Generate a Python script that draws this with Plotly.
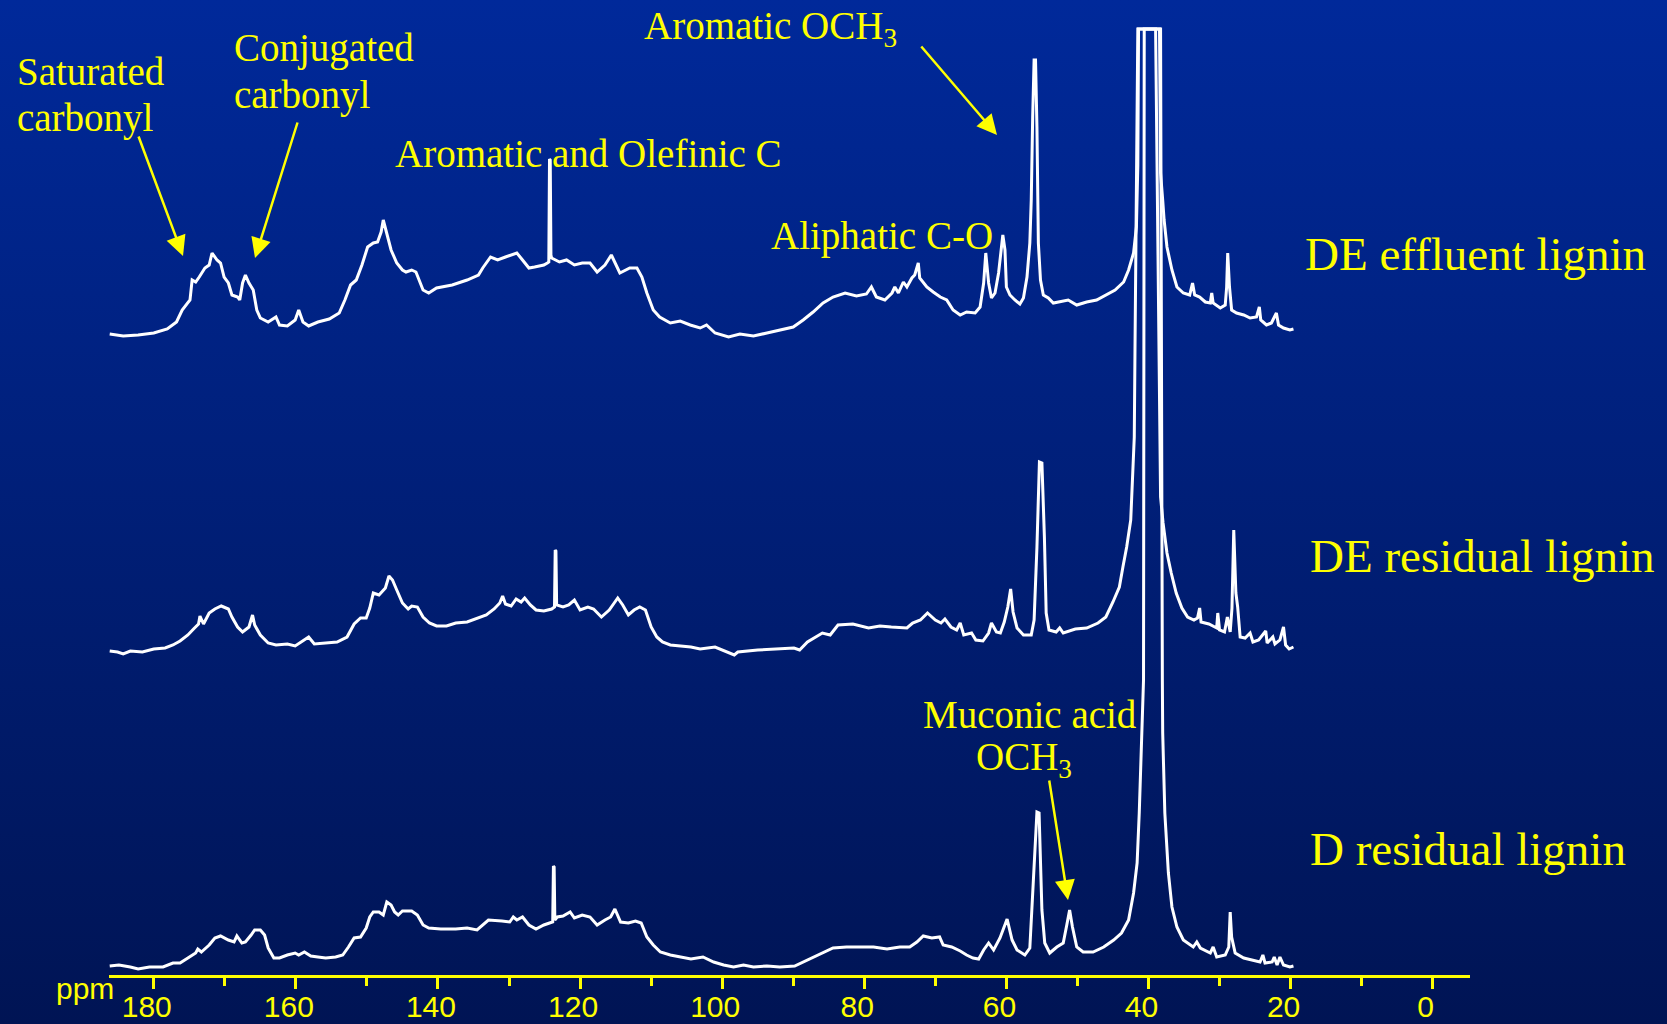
import base64
import plotly.graph_objects as go

# ---------------------------------------------------------------------------
# 13C NMR spectra of lignin fractions (chemical shift in ppm, intensity a.u.)
# ---------------------------------------------------------------------------
de_effluent_ppm = [
    186.2, 184.3, 182.2, 180.0, 178.1, 176.8, 176.0, 174.9, 174.6, 174.1,
    173.6, 172.8, 172.2, 171.8, 171.1, 170.6, 170.1, 169.5, 169.0, 168.2,
    167.9, 167.5, 167.1, 166.6, 166.0, 165.5, 165.0, 163.9, 162.8, 162.3,
    161.2, 160.1, 159.6, 159.0, 158.2, 156.9, 155.3, 153.9, 153.1, 152.3,
    151.5, 150.7, 149.9, 149.1, 148.5, 148.0, 147.7, 147.3, 146.6, 145.8,
    145.0, 144.5, 143.7, 143.1, 142.1, 141.3, 140.2, 138.0, 135.9, 134.3,
    133.7, 132.6, 131.6, 130.5, 129.7, 128.9, 128.1, 127.2, 126.4, 125.1,
    124.6, 124.4, 124.3, 124.2, 124.1, 124.0, 122.9, 121.9, 120.8, 119.7,
    118.6, 117.6, 116.5, 115.6, 114.4, 113.0, 112.0, 111.3, 110.6, 109.7,
    108.8, 107.3, 105.9, 104.5, 103.1, 102.2, 101.0, 99.1, 97.5, 95.6,
    93.7, 91.9, 90.0, 88.6, 87.2, 85.8, 84.4, 82.7, 81.1, 79.7,
    79.0, 78.3, 77.1, 76.1, 75.7, 75.2, 74.5, 74.0, 73.3, 72.9,
    72.4, 72.2, 71.2, 70.3, 69.3, 68.4, 67.5, 66.5, 65.6, 64.4,
    63.7, 63.2, 62.9, 62.5, 62.1, 61.6, 61.1, 60.5, 60.2, 60.0,
    59.5, 58.8, 58.1, 57.6, 57.1, 56.7, 56.5, 56.3, 56.1, 55.9,
    55.7, 55.5, 55.2, 54.8, 54.1, 53.4, 52.5, 51.3, 50.1, 48.7,
    47.3, 45.9, 44.7, 43.5, 42.8, 42.1, 41.7, 41.5, 41.4, 38.45,
    38.3, 38.0, 37.8, 37.4, 36.7, 36.0, 35.1, 34.2, 33.8, 33.5,
    32.8, 32.0, 31.3, 31.1, 30.9, 29.9, 29.2, 29.0, 28.85, 28.6,
    28.3, 27.6, 26.6, 25.7, 24.8, 24.4, 24.2, 23.4, 22.7, 22.0,
    21.7, 21.0, 20.1, 19.6,
]
de_effluent_int = [
    1, -1, 0, 2, 6, 13, 25, 35, 55, 53,
    58, 67, 70, 82, 75, 72, 58, 52, 40, 38,
    35, 52, 60, 52, 45, 25, 17, 13, 18, 10,
    9, 15, 25, 13, 9, 13, 16, 22, 35, 50,
    55, 70, 88, 92, 93, 103, 115, 105, 85, 72,
    65, 63, 65, 63, 45, 42, 47, 50, 55, 60,
    67, 78, 75, 78, 80, 82, 75, 67, 68, 70,
    72, 73, 176, 175, 80, 77, 73, 75, 70, 72,
    72, 63, 70, 80, 62, 67, 67, 58, 42, 25,
    18, 12, 14, 10, 7, 10, 2, -2, 1, -1,
    2, 5, 8, 15, 23, 32, 38, 42, 39, 41,
    48, 38, 35, 42, 48, 42, 53, 48, 57, 60,
    72, 57, 48, 43, 38, 35, 25, 20, 23, 22,
    28, 52, 82, 52, 37, 42, 62, 100, 85, 48,
    40, 35, 31, 37, 58, 92, 135, 218, 275, 275,
    208, 92, 55, 40, 37, 32, 33, 35, 30, 33,
    35, 40, 45, 53, 65, 82, 108, 170, 306, 306,
    162, 135, 115, 88, 65, 48, 42, 40, 52, 40,
    38, 33, 32, 42, 32, 27, 30, 48, 82, 48,
    25, 22, 20, 17, 18, 28, 15, 10, 12, 22,
    10, 7, 5, 6,
]

de_residual_ppm = [
    186.2, 185.1, 184.3, 183.3, 181.6, 180.0, 178.4, 177.3, 176.3, 175.2,
    174.4, 173.7, 173.5, 173.0, 172.2, 171.4, 170.5, 169.5, 169.0, 168.2,
    167.5, 166.6, 166.1, 165.8, 165.0, 163.9, 162.8, 161.2, 160.1, 159.1,
    158.2, 157.4, 155.8, 154.2, 152.8, 151.8, 150.9, 150.1, 149.6, 149.1,
    148.3, 147.4, 146.9, 146.4, 145.8, 145.0, 144.2, 143.7, 142.9, 142.1,
    141.2, 140.2, 138.8, 137.5, 135.9, 134.2, 133.2, 132.1, 131.3, 130.9,
    130.5, 129.7, 129.0, 128.3, 127.8, 127.0, 126.2, 125.1, 124.0, 123.6,
    123.5, 123.4, 123.3, 122.4, 121.6, 120.8, 120.0, 118.9, 118.1, 117.0,
    115.9, 114.7, 114.0, 113.2, 112.4, 111.6, 110.8, 110.0, 109.2, 108.4,
    107.3, 105.7, 104.4, 103.1, 101.0, 98.3, 97.8, 95.0, 92.35, 89.9,
    89.1, 88.0, 85.9, 84.8, 83.7, 81.6, 79.4, 77.8, 76.2, 74.0,
    73.2, 72.1, 71.1, 70.0, 69.2, 68.65, 67.8, 67.0, 66.5, 66.0,
    64.9, 64.3, 63.3, 62.5, 62.1, 61.4, 60.85, 60.3, 59.8, 59.4,
    59.06, 58.5, 57.6, 56.5, 56.1, 55.7, 55.35, 55.0, 54.65, 54.4,
    54.0, 53.0, 52.5, 52.0, 50.3, 48.7, 47.1, 46.0, 45.0, 44.1,
    43.6, 43.07, 42.5, 42.26, 42.0, 41.9, 41.7, 41.5, 39.0, 38.7,
    38.5, 38.3, 37.95, 37.4, 36.8, 36.1, 35.3, 34.5, 33.6, 33.1,
    32.8, 32.6, 31.5, 30.4, 30.25, 30.0, 29.3, 28.9, 28.5, 28.25,
    28.0, 27.7, 27.45, 27.1, 26.4, 25.7, 25.3, 24.5, 23.5, 23.3,
    22.5, 22.2, 21.5, 21.0, 20.7, 20.2, 19.6,
]
de_residual_int = [
    1, 0, -2, 1, 0, 3, 4, 7, 11, 17,
    23, 28, 36, 28, 39, 43, 46, 43, 35, 25,
    20, 25, 37, 27, 17, 9, 7, 8, 6, 11,
    15, 8, 9, 10, 15, 28, 34, 34, 44, 59,
    57, 64, 76, 72, 62, 49, 43, 46, 45, 35,
    29, 26, 26, 29, 30, 34, 37, 43, 49, 56,
    48, 46, 53, 50, 54, 47, 42, 41, 43, 45,
    102, 101, 47, 45, 47, 52, 42, 45, 43, 35,
    42, 54, 47, 37, 42, 45, 42, 25, 15, 10,
    7, 6, 5, 3, 5, -3, 0, 2, 3, 4,
    2, 10, 19, 17, 27, 28, 24, 26, 25, 24,
    29, 32, 39, 32, 29, 33, 25, 22, 29, 17,
    19, 12, 11, 19, 29, 20, 19, 30, 45, 63,
    40, 24, 17, 17, 32, 105, 190, 189, 115, 39,
    22, 20, 24, 19, 23, 24, 29, 35, 50, 65,
    85, 105, 132, 165, 215, 302, 452, 623, 623, 402,
    232, 155, 129, 99, 79, 59, 44, 35, 32, 34,
    44, 30, 28, 24, 39, 22, 20, 35, 20, 44,
    122, 59, 45, 15, 14, 19, 10, 12, 21, 9,
    15, 8, 12, 25, 7, 3, 5,
]

d_residual_ppm = [
    186.2, 184.9, 183.3, 182.2, 180.6, 178.7, 177.3, 176.3, 175.2, 174.1,
    173.8, 173.3, 172.2, 171.4, 170.6, 169.5, 168.7, 168.3, 167.6, 167.1,
    166.3, 165.8, 165.0, 164.4, 163.9, 163.1, 162.3, 161.2, 160.1, 159.6,
    158.8, 157.9, 156.9, 155.8, 154.4, 153.4, 152.6, 151.8, 150.9, 150.1,
    149.6, 149.1, 148.3, 147.7, 147.2, 146.6, 146.1, 145.6, 145.0, 143.7,
    142.9, 142.1, 141.3, 139.6, 137.5, 135.9, 134.5, 133.7, 132.9, 131.0,
    129.9, 129.4, 128.9, 128.1, 127.2, 126.2, 125.1, 124.3, 123.85, 123.75,
    123.65, 123.55, 123.2, 122.4, 121.4, 120.8, 119.7, 118.6, 117.6, 116.5,
    115.7, 115.1, 114.3, 113.2, 112.2, 111.4, 110.6, 109.7, 108.7, 107.3,
    105.7, 104.4, 102.7, 101.2, 99.8, 98.4, 97.0, 95.6, 93.7, 91.9,
    89.8, 88.6, 87.2, 85.8, 84.4, 82.5, 80.6, 78.7, 76.8, 75.0,
    73.6, 72.6, 71.7, 70.5, 69.4, 68.9, 67.7, 66.5, 65.6, 64.7,
    63.9, 63.2, 62.5, 61.8, 60.9, 59.9, 59.2, 58.5, 57.4, 56.7,
    56.2, 55.7, 55.4, 55.0, 54.6, 53.9, 52.9, 52.0, 51.5, 51.1,
    50.7, 50.1, 49.2, 47.8, 46.3, 44.9, 43.8, 42.8, 42.1, 41.6,
    41.3, 40.95, 40.7, 40.6, 38.3, 38.05, 38.0, 37.7, 37.2, 36.7,
    36.0, 35.1, 33.7, 33.2, 32.7, 31.3, 30.9, 30.4, 29.2, 28.7,
    28.5, 28.3, 27.8, 26.6, 25.2, 24.3, 23.9, 23.6, 22.6, 22.3,
    21.9, 21.5, 21.0, 20.1, 19.6,
]
d_residual_int = [
    1, 2, 0, -2, 0, 0, 4, 4, 9, 14,
    18, 15, 22, 29, 31, 27, 25, 31, 24, 25,
    32, 37, 37, 32, 19, 9, 9, 12, 14, 12,
    15, 11, 10, 9, 10, 12, 20, 29, 30, 39,
    50, 55, 55, 52, 65, 62, 55, 52, 56, 56,
    52, 42, 39, 38, 38, 39, 37, 42, 47, 46,
    45, 50, 47, 50, 42, 38, 42, 44, 45, 101,
    100, 47, 50, 51, 55, 49, 52, 50, 42, 47,
    50, 58, 45, 44, 46, 44, 30, 22, 15, 12,
    10, 8, 10, 5, 2, 0, 2, 0, 1, 0,
    1, 5, 9, 14, 19, 20, 20, 20, 18, 20,
    20, 25, 31, 29, 30, 22, 20, 16, 12, 9,
    8, 17, 24, 17, 29, 48, 27, 17, 12, 19,
    87, 155, 154, 57, 24, 14, 20, 24, 42, 57,
    40, 20, 15, 15, 20, 27, 34, 47, 74, 104,
    154, 220, 287, 938, 938, 287, 234, 154, 94, 60,
    40, 27, 20, 25, 19, 14, 20, 10, 12, 20,
    55, 30, 14, 9, 7, 5, 12, 4, 5, 10,
    2, 10, 2, 0, 1,
]

spectrum_names = ["DE effluent lignin", "DE residual lignin", "D residual lignin"]
tick_values = [180, 160, 140, 120, 100, 80, 60, 40, 20, 0]
minor_tick_values = [170, 150, 130, 110, 90, 70, 50, 30, 10]

# ---------------------------------------------------------------------------
# Layout geometry and styling
# ---------------------------------------------------------------------------
FIG_W, FIG_H = 1667, 1024
M_L, M_R, M_T, M_B = 109, 197, 0, 49
PLOT_W = FIG_W - M_L - M_R
PLOT_H = FIG_H - M_T - M_B
X_RANGE = [186.3, -5.25]
Y_RANGE = [0, PLOT_H]
STACK_OFFSETS = [640, 323, 8]     # vertical offset of each stacked trace

YELLOW = "#ffff00"
SERIF = "Times New Roman, Liberation Serif, serif"
SANS = "Arial, Liberation Sans, sans-serif"


def paper_x(px):
    return (px - M_L) / PLOT_W


def paper_y(py):
    return (M_T + PLOT_H - py) / PLOT_H


fig = go.Figure()

spectra = [
    (de_effluent_ppm, de_effluent_int),
    (de_residual_ppm, de_residual_int),
    (d_residual_ppm, d_residual_int),
]
for (ppm, inten), name, off in zip(spectra, spectrum_names, STACK_OFFSETS):
    fig.add_trace(go.Scatter(
        x=ppm, y=[v + off for v in inten], mode="lines", name=name,
        line=dict(color="white", width=3), hoverinfo="skip", showlegend=False,
    ))

# Blue vertical gradient behind everything
svg = (
    '<svg xmlns="http://www.w3.org/2000/svg" width="%d" height="%d" '
    'preserveAspectRatio="none"><defs><linearGradient id="g" x1="0" y1="0" '
    'x2="0" y2="1"><stop offset="0" stop-color="#00299a"/>'
    '<stop offset="1" stop-color="#001454"/></linearGradient></defs>'
    '<rect width="%d" height="%d" fill="url(#g)"/></svg>'
) % (FIG_W, FIG_H, FIG_W, FIG_H)
bg_uri = "data:image/svg+xml;base64," + base64.b64encode(svg.encode()).decode()

annotations = []


def label(text, px, py, size, anchor="left", family=SERIF):
    annotations.append(dict(
        text=text, xref="paper", yref="paper", x=paper_x(px), y=paper_y(py),
        xanchor=anchor, yanchor="middle", showarrow=False,
        font=dict(family=family, size=size, color=YELLOW),
    ))


def arrow(tip_px, tip_py, tail_px, tail_py):
    annotations.append(dict(
        text="", xref="paper", yref="paper", x=paper_x(tip_px), y=paper_y(tip_py),
        ax=tail_px - tip_px, ay=tail_py - tip_py, axref="pixel", ayref="pixel",
        showarrow=True, arrowhead=2, arrowsize=1.6, arrowwidth=2.5,
        arrowcolor=YELLOW, standoff=0, startstandoff=0,
    ))


label("Saturated", 15, 71, 39)
label("carbonyl", 15, 118, 39)
label("Conjugated", 232, 48, 39)
label("carbonyl", 232, 95, 39)
label("Aromatic and Olefinic C", 588, 153, 39, "center")
label("Aliphatic C-O", 882, 236, 39, "center")
label("Aromatic OCH<sub>3</sub>", 642, 28, 39)
label("Muconic acid", 1030, 714, 39, "center")
label("OCH<sub>3</sub>", 1024, 759, 39, "center")
label(spectrum_names[0], 1303, 254, 47)
label(spectrum_names[1], 1308, 556, 47)
label(spectrum_names[2], 1308, 849, 47)
label("ppm", 116, 989, 30, "right", SANS)

arrow(183, 256, 138, 135)
arrow(255, 258, 298, 121)
arrow(997, 135, 920, 45)
arrow(1068, 900, 1049, 779)

fig.update_layout(
    width=FIG_W, height=FIG_H,
    margin=dict(l=M_L, r=M_R, t=M_T, b=M_B, pad=0, autoexpand=False),
    paper_bgcolor="#001f78", plot_bgcolor="rgba(0,0,0,0)",
    showlegend=False,
    images=[dict(
        source=bg_uri, xref="paper", yref="paper",
        x=paper_x(0), y=paper_y(0), sizex=FIG_W / PLOT_W, sizey=FIG_H / PLOT_H,
        xanchor="left", yanchor="top", sizing="stretch", layer="below",
    )],
    xaxis=dict(
        range=X_RANGE, tickmode="array", tickvals=tick_values,
        ticktext=[str(v) for v in tick_values],
        ticks="outside", ticklen=11, tickwidth=2.5, tickcolor=YELLOW,
        showline=True, linecolor=YELLOW, linewidth=3,
        showgrid=False, zeroline=False, fixedrange=True, automargin=False,
        ticklabelshift=7, ticklabelstandoff=-8,
        tickfont=dict(family=SANS, size=30, color=YELLOW),
        minor=dict(tickmode="array", tickvals=minor_tick_values, ticks="outside",
                   ticklen=8, tickwidth=2.5, tickcolor=YELLOW, showgrid=False),
    ),
    yaxis=dict(range=Y_RANGE, visible=False, fixedrange=True),
    annotations=annotations,
)

fig.write_html("out.html")
